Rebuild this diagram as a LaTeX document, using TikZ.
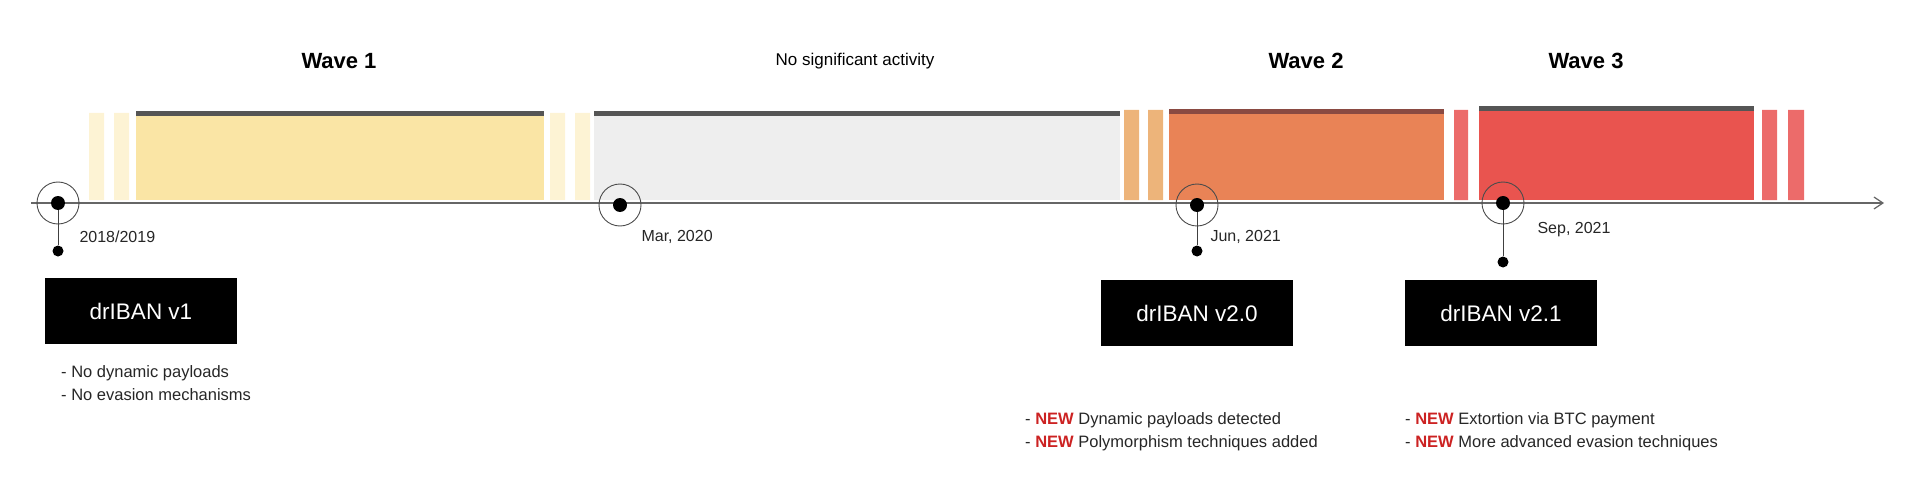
\documentclass[tikz,border=0pt]{standalone}
\usepackage{fontspec}
\setmainfont{Liberation Sans}
\usetikzlibrary{arrows.meta}
\definecolor{yel}{HTML}{FAE5A5}\definecolor{lyel}{HTML}{FDF3D4}
\definecolor{gry}{HTML}{EEEEEE}\definecolor{org}{HTML}{E98356}
\definecolor{lorg}{HTML}{EDB47A}\definecolor{rd}{HTML}{E9544F}
\definecolor{lrd}{HTML}{EC6B6A}\definecolor{band}{HTML}{555555}
\definecolor{oband}{HTML}{8A4A42}
\definecolor{newred}{HTML}{CC2222}
\begin{document}
\begin{tikzpicture}[x=1pt,y=-1pt,
 ring/.style={circle,draw=black!70,line width=0.9pt,minimum size=42pt,inner sep=0},
 dotn/.style={circle,fill=black,minimum size=14pt,inner sep=0},
 sdot/.style={circle,fill=black,minimum size=11pt,inner sep=0},
 ver/.style={fill=black,text=white,font=\fontsize{22.5}{26}\selectfont,minimum width=192pt,minimum height=66pt,inner sep=0},
 date/.style={font=\fontsize{16}{19}\selectfont,anchor=west,text=black!85},
 note/.style={font=\fontsize{16.5}{23}\selectfont,anchor=north west,align=left,text=black!85,inner sep=0},
 title/.style={font=\bfseries\fontsize{22}{26}\selectfont},
 stem/.style={draw=black!75,line width=1pt}]
\useasboundingbox (0,0) rectangle (1912,500);
% bars
\fill[lyel] (89,113) rectangle (104,200) (114,113) rectangle (129,200) (550,113) rectangle (565,200) (575,113) rectangle (590,200);
\fill[yel] (136,115) rectangle (544,200);
\fill[band] (136,111) rectangle (544,116);
\fill[gry] (594,115) rectangle (1120,200);
\fill[band] (594,111) rectangle (1120,116);
\fill[lorg] (1124,110) rectangle (1139,200) (1148,110) rectangle (1163,200);
\fill[org] (1169,112) rectangle (1444,200);
\fill[oband] (1169,109) rectangle (1444,114);
\fill[lrd] (1454,110) rectangle (1468,200) (1762,110) rectangle (1777,200) (1788,110) rectangle (1804,200);
\fill[rd] (1479,110) rectangle (1754,200);
\fill[band] (1479,106) rectangle (1754,111);
% axis
\coordinate (a0) at (31,203); \coordinate (a1) at (1884,203);
\draw[black!60,line width=1.2pt,-{Straight Barb[length=9pt,width=12pt]}] (a0) -- (a1);
% titles
\node[title] (w1) at (339,61) {Wave 1};
\node[font=\fontsize{17}{20}\selectfont] (nsa) at (855,61) {No significant activity};
\node[title] (w2) at (1306,61) {Wave 2};
\node[title] (w3) at (1586,61) {Wave 3};
% markers
\node[ring] (r1) at (58,203) {}; \node[dotn] (d1) at (58,203) {};
\node[ring] (r2) at (620,205) {}; \node[dotn] (d2) at (620,205) {};
\node[ring] (r3) at (1197,205) {}; \node[dotn] (d3) at (1197,205) {};
\node[ring] (r4) at (1503,203) {}; \node[dotn] (d4) at (1503,203) {};
\node[sdot] (s1) at (58,251) {};
\node[sdot] (s3) at (1197,251) {};
\node[sdot] (s4) at (1503,262) {};
\draw[stem] (d1) -- (s1); \draw[stem] (d3) -- (s3); \draw[stem] (d4) -- (s4);
\node[date] (l1) at (76,237) {2018/2019};
\node[date] (l2) at (638,237) {Mar, 2020};
\node[date] (l3) at (1207,237) {Jun, 2021};
\node[date] (l4) at (1534,230) {Sep, 2021};
% version boxes
\node[ver] (v1) at (141,311) {drIBAN v1};
\node[ver] (v2) at (1197,313) {drIBAN v2.0};
\node[ver] (v3) at (1501,313) {drIBAN v2.1};
% notes
\node[note] (n1) at (61,365) {- No dynamic payloads\\- No evasion mechanisms};
\node[note] (n2) at (1025,412) {- \textcolor{newred}{\textbf{NEW}} Dynamic payloads detected\\- \textcolor{newred}{\textbf{NEW}} Polymorphism techniques added};
\node[note] (n3) at (1405,412) {- \textcolor{newred}{\textbf{NEW}} Extortion via BTC payment\\- \textcolor{newred}{\textbf{NEW}} More advanced evasion techniques};
\end{tikzpicture}
\end{document}
